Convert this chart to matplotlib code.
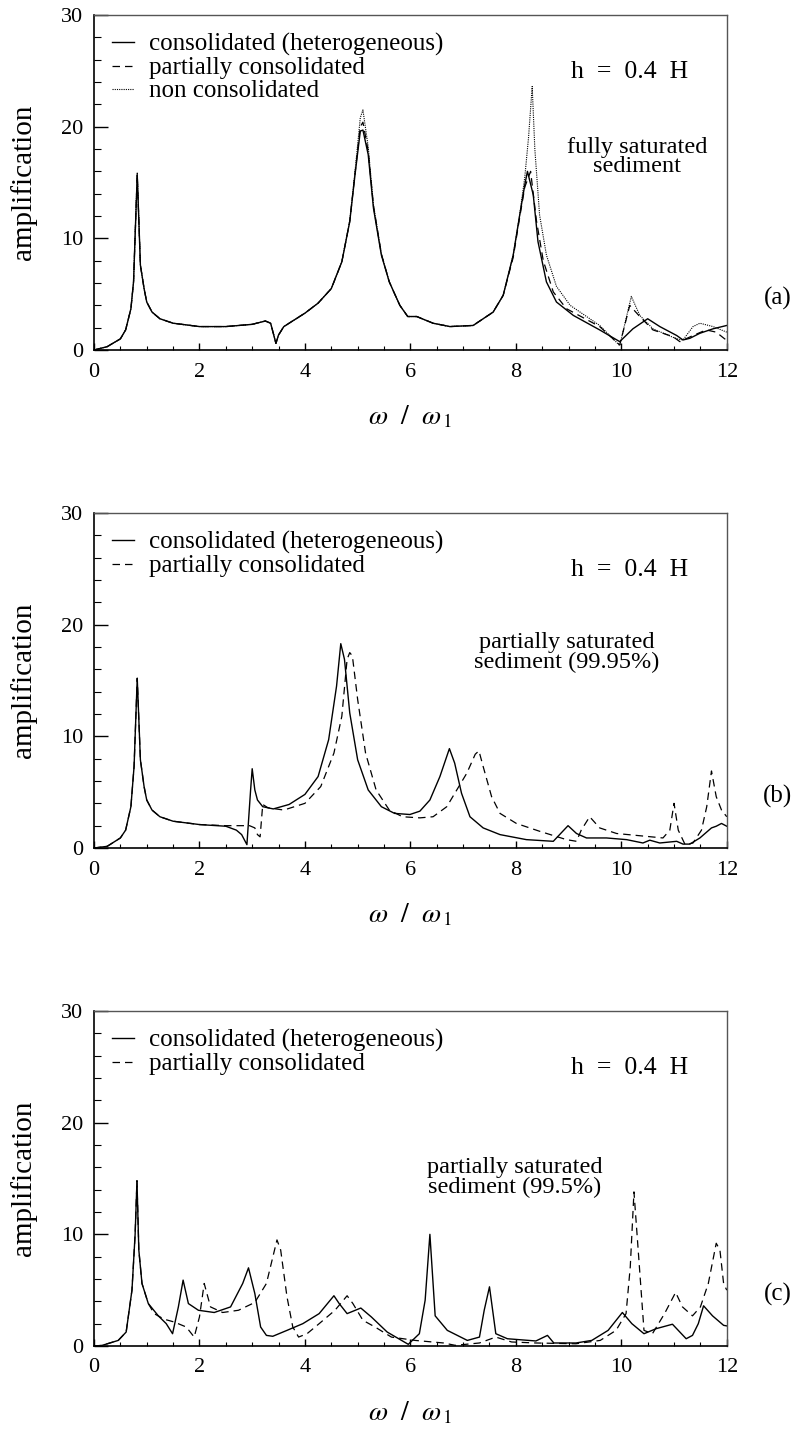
import numpy as np
import matplotlib.pyplot as plt
from matplotlib.ticker import MultipleLocator

plt.rcParams['font.family'] = ['Liberation Serif', 'DejaVu Serif']
plt.rcParams['mathtext.fontset'] = 'stix'

# (a) fully saturated sediment
xa_con = [0, 0.25, 0.5, 0.6, 0.7, 0.75, 0.82, 0.88, 0.95, 1.0, 1.1, 1.25, 1.5, 2.0, 2.5, 3.0, 3.25, 3.35,
          3.45, 3.5, 3.6, 3.8, 4.0, 4.25, 4.5, 4.7, 4.85, 4.95, 5.05, 5.1, 5.2, 5.3, 5.45, 5.6, 5.8, 5.95,
          6.12, 6.43, 6.75, 7.19, 7.57, 7.76, 7.95, 8.07, 8.17, 8.22, 8.33, 8.42, 8.58, 8.77, 9.09, 9.59, 9.97,
          10.22, 10.5, 10.73, 11.05, 11.17, 11.3, 11.49, 11.74, 12.0]
ya_con = [0, 0.3, 1.0, 1.8, 3.7, 6.1, 15.7, 7.6, 5.5, 4.3, 3.4, 2.8, 2.4, 2.1, 2.1, 2.3, 2.6, 2.4,
          0.6, 1.35, 2.1, 2.7, 3.3, 4.2, 5.5, 7.9, 11.5, 15.7, 19.6, 19.7, 17.5, 12.7, 8.5, 6.1, 4.0, 3.0,
          3.0, 2.4, 2.1, 2.2, 3.4, 4.9, 8.5, 12.0, 14.8, 16.0, 13.9, 9.7, 6.1, 4.3, 3.1, 1.8, 0.75,
          1.9, 2.8, 2.1, 1.3, 0.9, 1.05, 1.5, 1.9, 2.2]

xa_par = [0, 0.25, 0.5, 0.6, 0.7, 0.75, 0.82, 0.88, 0.95, 1.0, 1.1, 1.25, 1.5, 2.0, 2.5, 3.0, 3.25, 3.35,
          3.45, 3.5, 3.6, 3.8, 4.0, 4.25, 4.5, 4.7, 4.85, 4.95, 5.05, 5.1, 5.2, 5.3, 5.45, 5.6, 5.8, 5.95,
          6.12, 6.43, 6.75, 7.19, 7.57, 7.76, 7.95, 8.07, 8.17, 8.28, 8.39, 8.52, 8.71, 8.96, 9.59, 9.97,
          10.16, 10.35, 10.6, 10.98, 11.11, 11.36, 11.61, 11.8, 11.96, 12.0]
ya_par = [0, 0.3, 1.0, 1.8, 3.7, 6.1, 15.7, 7.6, 5.5, 4.3, 3.4, 2.8, 2.4, 2.1, 2.1, 2.3, 2.6, 2.4,
          0.6, 1.35, 2.1, 2.7, 3.3, 4.2, 5.5, 7.9, 11.5, 15.8, 20.0, 20.4, 17.8, 12.9, 8.6, 6.1, 4.0, 3.0,
          3.0, 2.4, 2.1, 2.2, 3.4, 4.9, 8.3, 11.8, 14.6, 16.0, 11.6, 8.0, 5.2, 3.7, 2.1, 0.45,
          4.0, 3.0, 1.8, 1.2, 0.75, 1.3, 1.8, 1.6, 1.0, 0.9]

xa_non = [0, 0.25, 0.5, 0.6, 0.7, 0.75, 0.82, 0.88, 0.95, 1.0, 1.1, 1.25, 1.5, 2.0, 2.5, 3.0, 3.25, 3.35,
          3.45, 3.5, 3.6, 3.8, 4.0, 4.25, 4.5, 4.7, 4.85, 4.95, 5.05, 5.1, 5.2, 5.3, 5.45, 5.6, 5.8, 5.95,
          6.12, 6.43, 6.75, 7.19, 7.57, 7.76, 7.95, 8.07, 8.17, 8.24, 8.31, 8.36, 8.45, 8.58, 8.77, 9.03, 9.59,
          9.97, 10.19, 10.35, 10.6, 11.05, 11.17, 11.36, 11.49, 11.74, 12.0]
ya_non = [0, 0.3, 1.0, 1.8, 3.7, 6.1, 15.9, 7.6, 5.5, 4.3, 3.4, 2.8, 2.4, 2.1, 2.1, 2.3, 2.6, 2.4,
          0.6, 1.35, 2.1, 2.7, 3.3, 4.2, 5.5, 7.9, 11.6, 16.0, 20.8, 21.5, 18.2, 13.0, 8.6, 6.1, 4.0, 3.0,
          3.0, 2.4, 2.1, 2.2, 3.4, 4.9, 8.5, 12.0, 15.5, 19.0, 23.6, 18.0, 12.1, 8.5, 5.7, 4.0, 2.2,
          0.4, 4.8, 3.1, 1.9, 1.0, 0.9, 2.1, 2.4, 2.1, 1.6]

# (b) partially saturated sediment (99.95%)
xb_con = [0, 0.25, 0.5, 0.6, 0.7, 0.76, 0.82, 0.88, 0.95, 1.0, 1.1, 1.25, 1.5, 2.0, 2.5, 2.7, 2.8, 2.9,
          2.97, 3.0, 3.05, 3.1, 3.2, 3.4, 3.7, 4.0, 4.25, 4.45, 4.6, 4.68, 4.75, 4.85, 5.0, 5.2, 5.45, 5.7,
          5.99, 6.18, 6.37, 6.56, 6.74, 6.84, 6.97, 7.13, 7.38, 7.7, 8.2, 8.71, 8.83, 8.99, 9.15, 9.34, 9.72,
          10.1, 10.41, 10.54, 10.73, 11.05, 11.17, 11.3, 11.49, 11.71, 11.8, 11.9, 12.0]
yb_con = [0, 0.15, 0.9, 1.6, 3.7, 7.3, 15.2, 7.9, 5.5, 4.3, 3.4, 2.8, 2.4, 2.1, 1.95, 1.6, 1.2, 0.3,
          5.2, 7.1, 5.2, 4.3, 3.7, 3.5, 3.9, 4.8, 6.4, 9.7, 14.5, 18.3, 16.9, 12.1, 7.9, 5.2, 3.7, 3.1,
          3.0, 3.3, 4.3, 6.4, 8.9, 7.6, 4.9, 2.8, 1.8, 1.2, 0.75, 0.6, 1.2, 2.0, 1.3, 0.9, 0.9,
          0.75, 0.45, 0.7, 0.45, 0.6, 0.35, 0.35, 0.9, 1.8, 1.95, 2.2, 1.95]

xb_par = [0, 0.25, 0.5, 0.6, 0.7, 0.76, 0.82, 0.88, 0.95, 1.0, 1.1, 1.25, 1.5, 2.0, 2.5, 2.95, 3.05, 3.1,
          3.15, 3.2, 3.3, 3.6, 4.0, 4.3, 4.55, 4.7, 4.8, 4.85, 4.9, 5.0, 5.15, 5.35, 5.6, 5.85, 6.18, 6.43,
          6.69, 6.88, 7.07, 7.23, 7.3, 7.38, 7.54, 7.7, 8.01, 8.45, 8.96, 9.15, 9.24, 9.4, 9.59, 9.91, 10.35,
          10.79, 10.92, 11.0, 11.08, 11.21, 11.36, 11.52, 11.62, 11.71, 11.8, 11.9, 12.0]
yb_par = [0, 0.15, 0.9, 1.6, 3.7, 7.3, 15.2, 7.9, 5.5, 4.3, 3.4, 2.8, 2.4, 2.1, 2.0, 2.0, 1.8, 1.2,
          1.0, 3.9, 3.6, 3.4, 4.0, 5.5, 8.5, 11.8, 16.9, 17.5, 17.2, 13.3, 8.5, 5.2, 3.4, 2.8, 2.7, 2.8,
          3.7, 5.2, 6.7, 8.4, 8.7, 7.3, 4.6, 3.1, 2.2, 1.5, 0.75, 0.6, 1.6, 2.8, 1.8, 1.3, 1.1,
          0.9, 1.6, 4.0, 1.6, 0.3, 0.45, 1.6, 3.7, 6.9, 4.6, 3.4, 2.8]

# (c) partially saturated sediment (99.5%)
xc_con = [0, 0.15, 0.46, 0.61, 0.72, 0.78, 0.815, 0.85, 0.91, 1.03, 1.22, 1.37, 1.49, 1.6, 1.69, 1.79, 1.98,
          2.28, 2.59, 2.82, 2.93, 3.05, 3.16, 3.27, 3.39, 3.66, 3.96, 4.27, 4.55, 4.65, 4.8, 5.06, 5.26, 5.56,
          5.96, 6.17, 6.28, 6.37, 6.47, 6.7, 7.08, 7.31, 7.4, 7.5, 7.62, 7.84, 8.38, 8.6, 8.72, 9.14, 9.44,
          9.75, 10.02, 10.2, 10.43, 10.66, 10.97, 11.08, 11.23, 11.35, 11.46, 11.56, 11.73, 11.94, 12.0]
yc_con = [0, 0.05, 0.5, 1.25, 5.0, 10.0, 14.8, 8.6, 5.6, 3.8, 2.7, 2.0, 1.1, 3.5, 5.9, 3.8, 3.2,
          3.0, 3.5, 5.6, 7.0, 4.7, 1.7, 0.95, 0.87, 1.4, 2.0, 2.9, 4.5, 3.8, 2.9, 3.4, 2.6, 1.25,
          0.15, 1.1, 4.1, 10.0, 2.7, 1.4, 0.5, 0.8, 3.2, 5.3, 1.1, 0.65, 0.45, 0.95, 0.27, 0.27, 0.5,
          1.4, 3.0, 2.0, 1.1, 1.55, 1.95, 1.4, 0.65, 0.95, 2.0, 3.6, 2.7, 1.85, 1.8]

xc_par = [0, 0.15, 0.46, 0.61, 0.72, 0.78, 0.815, 0.85, 0.91, 1.03, 1.14, 1.33, 1.52, 1.75, 1.9, 2.0, 2.09,
          2.21, 2.44, 2.74, 3.05, 3.27, 3.47, 3.54, 3.66, 3.77, 3.88, 4.04, 4.27, 4.57, 4.8, 4.91, 5.1, 5.33,
          5.64, 6.09, 6.63, 6.85, 7.31, 7.62, 7.92, 8.38, 9.14, 9.6, 9.9, 10.09, 10.17, 10.24, 10.32, 10.43,
          10.59, 10.82, 11.03, 11.16, 11.35, 11.5, 11.65, 11.8, 11.87, 11.94, 12.0]
yc_par = [0, 0.05, 0.5, 1.25, 5.0, 10.0, 14.8, 8.6, 5.6, 3.8, 2.9, 2.4, 2.15, 1.7, 0.8, 2.6, 5.6,
          3.5, 3.0, 3.2, 3.9, 5.6, 9.5, 8.6, 4.4, 1.7, 0.8, 1.1, 2.0, 3.2, 4.5, 3.8, 2.3, 1.7,
          0.8, 0.5, 0.27, 0.06, 0.27, 0.8, 0.36, 0.27, 0.2, 0.5, 1.4, 2.9, 7.1, 13.8, 8.6, 1.4,
          1.1, 2.9, 4.8, 3.5, 2.7, 3.5, 5.6, 9.2, 8.6, 5.6, 5.0]

x_ticks = [0, 2, 4, 6, 8, 10, 12]
y_ticks = [0, 10, 20, 30]

panels = [
    ('(a)', 'fully saturated\nsediment', (10.3, 17.3),
     [(xa_con, ya_con, 'consolidated (heterogeneous)', '-'),
      (xa_par, ya_par, 'partially consolidated', '--'),
      (xa_non, ya_non, 'non consolidated', ':')]),
    ('(b)', 'partially saturated\nsediment (99.95%)', (8.97, 17.5),
     [(xb_con, yb_con, 'consolidated (heterogeneous)', '-'),
      (xb_par, yb_par, 'partially consolidated', '--')]),
    ('(c)', 'partially saturated\nsediment (99.5%)', (7.98, 15.1),
     [(xc_con, yc_con, 'consolidated (heterogeneous)', '-'),
      (xc_par, yc_par, 'partially consolidated', '--')]),
]

fig = plt.figure(figsize=(8.02, 14.31), dpi=100)
bottoms = [0.7554, 0.4074, 0.0594]

for (tag, note, note_xy, series), b in zip(panels, bottoms):
    ax = fig.add_axes([0.1172, b, 0.789, 0.2341])
    for xs, ys, lab, ls in series:
        if ls == '--':
            ax.plot(xs, ys, color='black', lw=0.9, linestyle=(0, (6, 4)), label=lab)
        elif ls == ':':
            ax.plot(xs, ys, color='black', lw=0.8, linestyle=(0, (1, 1)), label=lab)
        else:
            ax.plot(xs, ys, color='black', lw=1.0, label=lab)
    ax.set_xlim(0, 12)
    ax.set_ylim(0, 30)
    ax.set_xticks(x_ticks)
    ax.set_yticks(y_ticks)
    ax.xaxis.set_minor_locator(MultipleLocator(0.5))
    ax.yaxis.set_minor_locator(MultipleLocator(2))
    ax.tick_params(axis='x', which='major', direction='in', length=5, width=1, labelsize=16, pad=9)
    ax.tick_params(axis='x', which='minor', direction='in', length=3, width=0.8)
    ax.tick_params(axis='y', which='major', direction='in', length=10, width=1, labelsize=16, pad=8)
    ax.tick_params(axis='y', which='minor', direction='in', length=5, width=0.8)
    for s in ['left', 'bottom']:
        ax.spines[s].set_linewidth(1.2)
    for s in ['top', 'right']:
        ax.spines[s].set_linewidth(1.0)
        ax.spines[s].set_color('#555555')

    ax.set_ylabel('amplification', fontsize=21)
    ax.yaxis.set_label_coords(-0.09, 0.5)
    ax.set_xlabel(r'$\omega\ \ /\ \ \omega_{\,1}$', fontsize=20)
    ax.xaxis.set_label_coords(0.5, -0.16)

    ax.legend(loc='upper left', bbox_to_anchor=(0.012, 0.975), frameon=False, fontsize=18,
              handlelength=0.9, handletextpad=0.6, labelspacing=0.02, borderaxespad=0)
    ax.text(0.847, 0.83, 'h  =  0.4  H', transform=ax.transAxes, fontsize=18.5, ha='center', va='center')
    ax.text(note_xy[0], note_xy[1], note, fontsize=17.5, ha='center', va='center', linespacing=0.9)
    ax.text(1.08, 0.155, tag, transform=ax.transAxes, fontsize=18, ha='center', va='center')

fig.savefig('out.png', dpi=100)
